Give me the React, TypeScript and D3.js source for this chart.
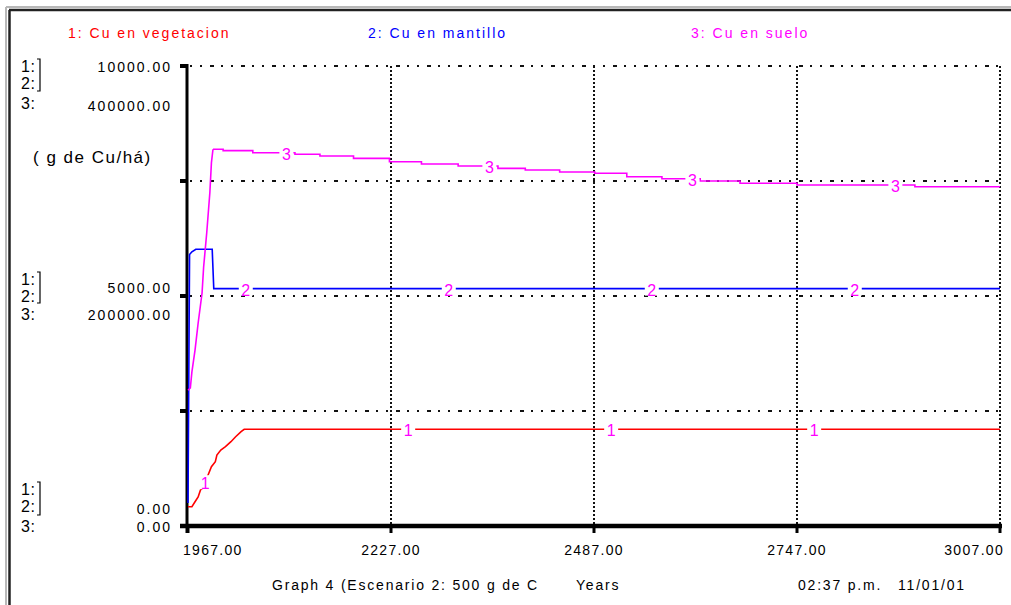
import React from "react";
import * as d3 from "d3";

// ---------- DATA ----------
const vegYears = [1967, 1972, 1976, 1980, 1983, 1986, 1997, 2002, 2004, 2009, 2015, 2022, 2028, 2035, 2039, 3007];
const vegValues = [420, 420, 528, 630, 783, 826, 1289, 1398, 1543, 1652, 1724, 1833, 1941, 2050, 2102, 2102];

const mantYears = [1967, 1969, 1972, 1977, 1998, 2000, 3007];
const mantValues = [500, 5900, 5960, 6015, 6015, 5160, 5160];

const sueloYears = [1967, 1970, 1972, 1976, 1980, 1985, 1987, 1991, 1995, 1997, 1999, 2012, 2050, 2104, 2136, 2179, 2225, 2266, 2313, 2364, 2399, 2443, 2488, 2529, 2574, 2623, 2674, 2747, 2898, 3007];
const sueloValues = [118000, 120000, 134000, 153000, 176500, 202600, 225000, 255000, 290000, 316000, 327600, 326400, 324600, 323200, 321700, 319700, 316800, 314800, 313000, 311000, 309600, 307800, 306700, 303700, 302000, 300000, 298000, 296500, 295000, 295000];
const sueloStepFrom = 10; // index after which the series is drawn as steps

const xTicks = [1967, 2227, 2487, 2747, 3007];
const xTickLabels = ["1967.00", "2227.00", "2487.00", "2747.00", "3007.00"];
const gridValues = [2500, 5000, 7500, 10000];

const legendLabels = ["1: Cu en vegetacion", "2: Cu en mantillo", "3: Cu en suelo"];
const scale12Labels = ["10000.00", "5000.00", "0.00"];
const scale3Labels = ["400000.00", "200000.00", "0.00"];
const seriesKeys = ["1:", "2:", "3:"];
const unitLabel = "( g de Cu/há)";
const footerLabels = ["Graph 4 (Escenario 2: 500 g de C", "Years", "02:37 p.m.", "11/01/01"];
const lineLabelYears = [
  [1989, 2249, 2509, 2769],
  [2041, 2301, 2561, 2821],
  [2093, 2353, 2613, 2873],
];
const lineLabelTexts = ["1", "2", "3"];

// ---------- LAYOUT / STYLE ----------
const W = 1011;
const H = 605;
const FONT = "'Liberation Sans', Arial, sans-serif";
const colors = ["#ff0000", "#0000ff", "#ff00ff"];
const labelColor = "#ff00ff";

const x = d3.scaleLinear().domain([1967, 3007]).range([188, 1000]);
const y12 = d3.scaleLinear().domain([0, 10000]).range([526, 66]);
const y3 = d3.scaleLinear().domain([0, 400000]).range([526, 66]);

function valueAt(years: number[], values: number[], t: number, stepFrom: number) {
  const i = d3.bisectRight(years, t) - 1;
  if (i < 0) return values[0];
  if (i >= years.length - 1) return values[values.length - 1];
  if (i >= stepFrom) return values[i];
  const f = (t - years[i]) / (years[i + 1] - years[i]);
  return values[i] + f * (values[i + 1] - values[i]);
}

export default function App() {
  const lineLin = d3
    .line<[number, number]>()
    .x((d) => d[0])
    .y((d) => d[1])
    .curve(d3.curveLinear);
  const lineStep = d3
    .line<[number, number]>()
    .x((d) => d[0])
    .y((d) => d[1])
    .curve(d3.curveStepAfter);

  const vegPts = vegYears.map((t, i) => [x(t), y12(vegValues[i])] as [number, number]);
  const mantPts = mantYears.map((t, i) => [x(t), y12(mantValues[i])] as [number, number]);
  const sueloPts = sueloYears.map((t, i) => [x(t), y3(sueloValues[i])] as [number, number]);

  const seriesData = [
    { years: vegYears, values: vegValues, scale: y12, stepFrom: Infinity },
    { years: mantYears, values: mantValues, scale: y12, stepFrom: Infinity },
    { years: sueloYears, values: sueloValues, scale: y3, stepFrom: sueloStepFrom },
  ];

  const legendX = [68, 368, 691];
  const gridY = gridValues.map((v) => y12(v));

  // left label groups: tick values 10000, 5000, 0
  const groups = [
    { keys: [72, 89, 109], vals: [72, 111] },
    { keys: [285, 302, 320], vals: [293, 320] },
    { keys: [495, 512, 532], vals: [514, 532] },
  ];
  const brackets = [
    [59, 91],
    [272, 303],
    [482, 515],
  ];

  return (
    <svg
      width={W}
      height={H}
      style={{ position: "absolute", left: 0, top: 0, background: "#fff" }}
      fontFamily={FONT}
    >
      <rect x={0} y={0} width={W} height={H} fill="#fff" />
      {/* frame */}
      <line x1={6} y1={7} x2={W} y2={7} stroke="#b8b8b8" strokeWidth={2} />
      <line x1={6} y1={7} x2={6} y2={H} stroke="#b8b8b8" strokeWidth={2} />
      <line x1={9} y1={10} x2={W} y2={10} stroke="#222" strokeWidth={2.5} />
      <line x1={9.5} y1={10} x2={9.5} y2={H} stroke="#222" strokeWidth={2.5} />

      {/* legend */}
      {legendLabels.map((s, i) => (
        <text key={s} x={legendX[i]} y={38} fill={colors[i]} fontSize={14} letterSpacing={2}>
          {s}
        </text>
      ))}

      {/* grid */}
      {gridY.map((gy, i) => (
        <line
          key={"h" + i}
          x1={190}
          x2={1000}
          y1={gy}
          y2={gy}
          stroke="#111"
          strokeWidth={2}
          strokeDasharray="2,8,2,8,4,7"
        />
      ))}
      {xTicks.slice(1).map((t) => (
        <line
          key={"v" + t}
          x1={x(t)}
          x2={x(t)}
          y1={66}
          y2={526}
          stroke="#111"
          strokeWidth={2}
          strokeDasharray="2,2"
        />
      ))}

      {/* axes */}
      <line x1={187} x2={187} y1={64} y2={533} stroke="#000" strokeWidth={3} />
      <line x1={180} x2={1002} y1={526} y2={526} stroke="#000" strokeWidth={4.5} />
      {gridY.map((gy, i) => (
        <line key={"yt" + i} x1={180} x2={187} y1={gy} y2={gy} stroke="#000" strokeWidth={4} />
      ))}
      {xTicks.map((t) => (
        <line key={"xt" + t} x1={x(t)} x2={x(t)} y1={526} y2={533} stroke="#000" strokeWidth={3} />
      ))}

      {/* x tick labels */}
      {xTickLabels.map((s, i) => {
        const anchor = i === 0 ? "start" : i === xTickLabels.length - 1 ? "end" : "middle";
        const px = i === 0 ? x(xTicks[i]) - 5 : i === xTickLabels.length - 1 ? x(xTicks[i]) + 4 : x(xTicks[i]);
        return (
          <text key={s} x={px} y={555} fontSize={14} letterSpacing={1.3} textAnchor={anchor} fill="#000">
            {s}
          </text>
        );
      })}

      {/* left labels */}
      {groups.map((g, gi) => (
        <g key={"g" + gi}>
          {seriesKeys.map((k, ki) => (
            <text key={k} x={21} y={g.keys[ki]} fontSize={16} letterSpacing={0.5} fill="#000">
              {k}
            </text>
          ))}
          <text x={172} y={g.vals[0]} fontSize={14} letterSpacing={2} textAnchor="end" fill="#000">
            {scale12Labels[gi]}
          </text>
          <text x={172} y={g.vals[1]} fontSize={14} letterSpacing={2} textAnchor="end" fill="#000">
            {scale3Labels[gi]}
          </text>
          <path
            d={`M37,${brackets[gi][0]}H40V${brackets[gi][1]}H37`}
            fill="none"
            stroke="#000"
            strokeWidth={1.2}
          />
        </g>
      ))}
      <text x={33} y={163} fontSize={17} letterSpacing={1.5} fill="#000">
        {unitLabel}
      </text>

      {/* series */}
      <path d={lineLin(vegPts) || ""} fill="none" stroke={colors[0]} strokeWidth={1.6} />
      <path d={lineLin(mantPts) || ""} fill="none" stroke={colors[1]} strokeWidth={1.6} />
      <path
        d={lineLin(sueloPts.slice(0, sueloStepFrom + 1)) || ""}
        fill="none"
        stroke={colors[2]}
        strokeWidth={1.6}
      />
      <path
        d={lineStep(sueloPts.slice(sueloStepFrom)) || ""}
        fill="none"
        stroke={colors[2]}
        strokeWidth={1.6}
      />

      {/* on-line labels */}
      {seriesData.map((s, si) =>
        lineLabelYears[si].map((t) => {
          const v = valueAt(s.years, s.values, t, s.stepFrom);
          const cx = x(t);
          const cy = s.scale(v);
          return (
            <g key={si + "-" + t}>
              <rect x={cx - 7} y={cy - 7} width={14} height={14} fill="#fff" />
              <text x={cx} y={cy + 7} fontSize={16} textAnchor="middle" fill={labelColor}>
                {lineLabelTexts[si]}
              </text>
            </g>
          );
        })
      )}

      {/* footer */}
      <text x={272} y={590} fontSize={14} letterSpacing={1.8} fill="#000">
        {footerLabels[0]}
      </text>
      <text x={576} y={590} fontSize={14} letterSpacing={1.8} fill="#000">
        {footerLabels[1]}
      </text>
      <text x={798} y={590} fontSize={14} letterSpacing={1.8} fill="#000">
        {footerLabels[2]}
      </text>
      <text x={898} y={590} fontSize={14} letterSpacing={1.8} fill="#000">
        {footerLabels[3]}
      </text>
    </svg>
  );
}
